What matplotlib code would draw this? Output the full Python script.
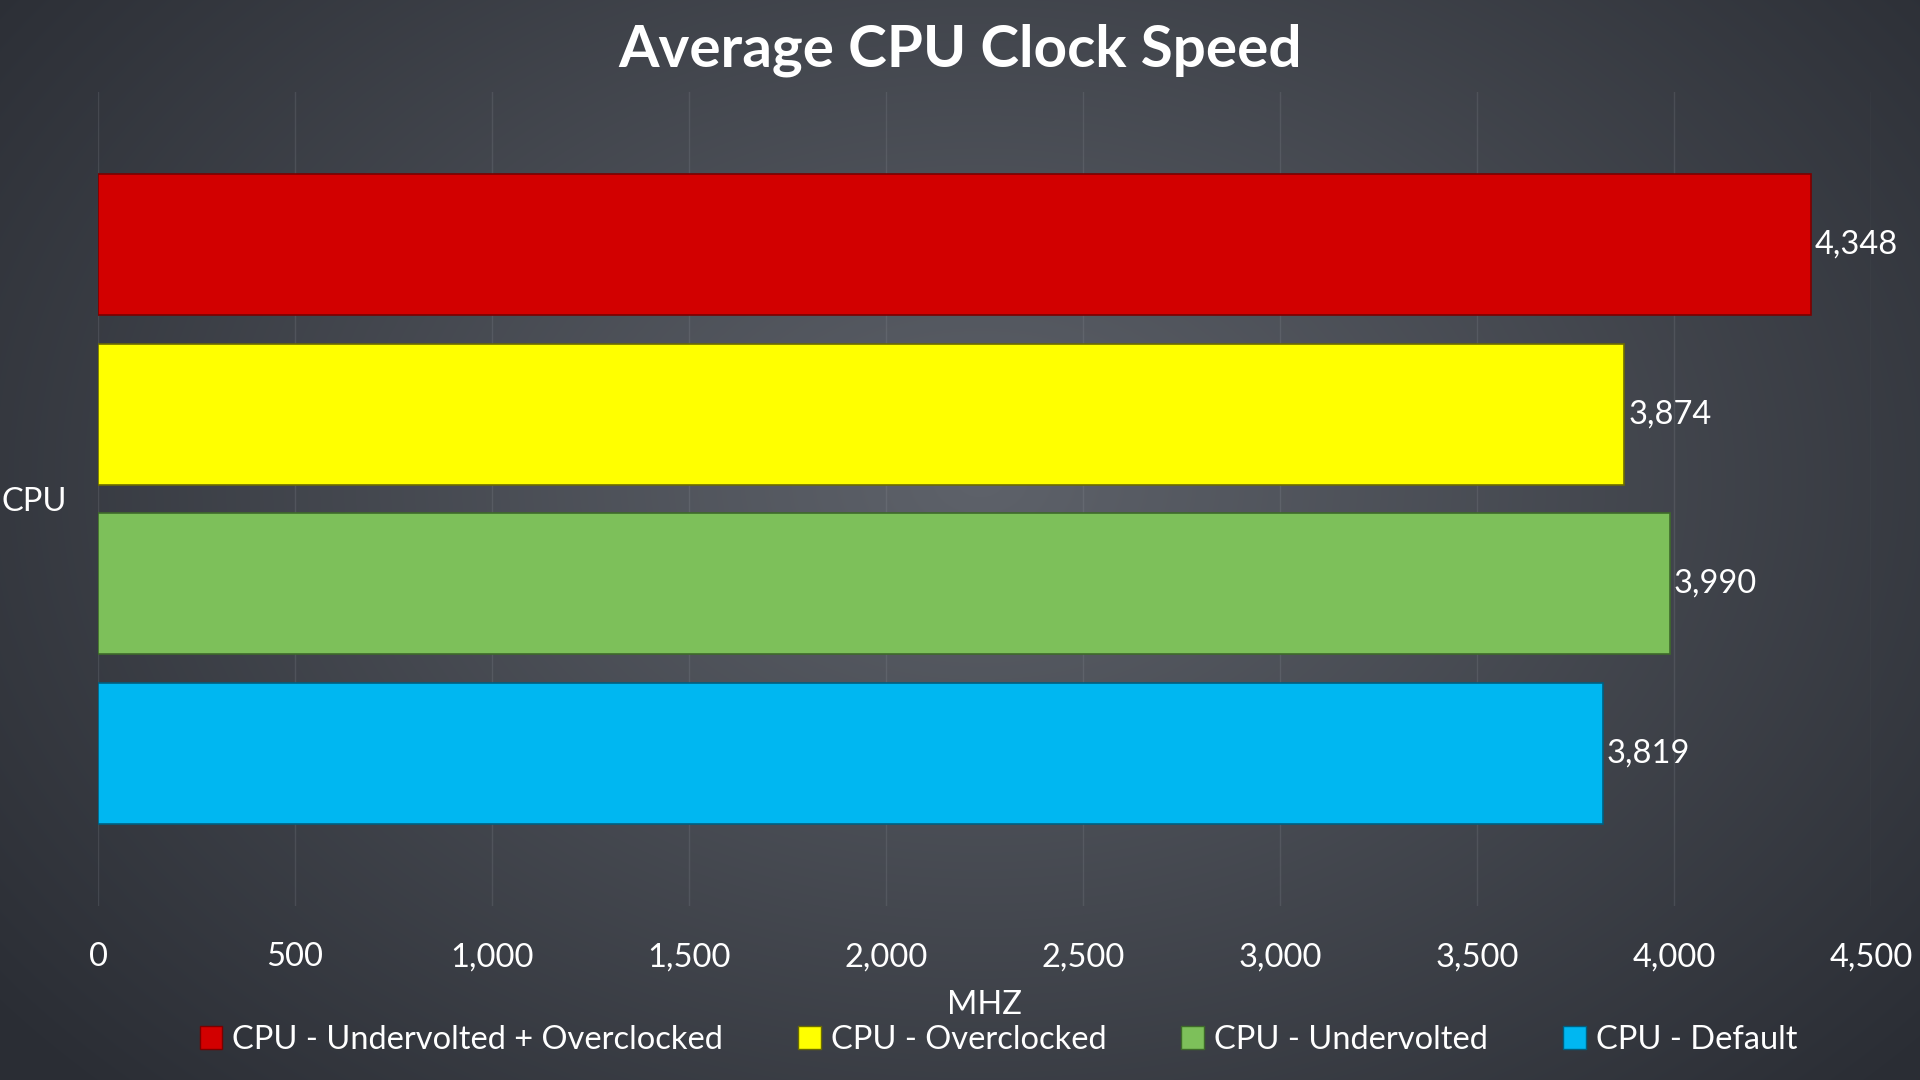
import numpy as np
import matplotlib.pyplot as plt
from matplotlib.patches import Patch

plt.rcParams['font.family'] = ['Lato', 'DejaVu Sans']

# data, top bar first
series = ['CPU - Undervolted + Overclocked', 'CPU - Overclocked',
          'CPU - Undervolted', 'CPU - Default']
values = [4348, 3874, 3990, 3819]
colors = ['#d20000', '#ffff00', '#7dc05a', '#00b7f1']
edges = ['#7a0000', '#6b6b00', '#3e6a2a', '#005f80']
category = 'CPU'
xticks = [0, 500, 1000, 1500, 2000, 2500, 3000, 3500, 4000, 4500]

fig = plt.figure(figsize=(19.2, 10.8), dpi=100)

# radial gradient background
bg = fig.add_axes([0, 0, 1, 1], zorder=-10)
yy, xx = np.mgrid[0:1080, 0:1920]
d = np.sqrt(((xx - 980) / 1250) ** 2 + ((yy - 480) / 880) ** 2)
d = np.clip(d, 0, 1)
light = np.array([0x5e, 0x62, 0x6a]) / 255
dark = np.array([0x2a, 0x2d, 0x34]) / 255
img = light[None, None, :] * (1 - d[..., None]) + dark[None, None, :] * d[..., None]
bg.imshow(img, aspect='auto', extent=[0, 1, 0, 1])
bg.axis('off')

ax = fig.add_axes([98 / 1920, 1 - 906 / 1080, (1871 - 98) / 1920, (906 - 92) / 1080])
ax.set_facecolor('none')

ypos = [3.6, 2.4, 1.2, 0.0]
for y, v, c, e in zip(ypos, values, colors, edges):
    ax.barh(y, v, height=1.0, color=c, edgecolor=e, linewidth=1.2, zorder=3)
    ax.text(v + 10, y, f'{v:,}', va='center', ha='left', color='white', fontsize=23.5, zorder=4)

ax.set_xlim(0, 4500)
ax.set_ylim(-1.08, 4.68)
ax.set_xticks(xticks)
ax.set_xticklabels([f'{t:,}' for t in xticks], color='white', fontsize=23.5)
ax.set_yticks([1.8])
ax.set_yticklabels([category], color='white', fontsize=23.5)
ax.tick_params(axis='x', length=0, pad=26)
ax.tick_params(axis='y', length=0, pad=22)
ax.grid(axis='x', color='#9a9ea6', alpha=0.18, linewidth=1, zorder=0)
for s in ax.spines.values():
    s.set_visible(False)

ax.set_xlabel('MHZ', color='white', fontsize=23.5, labelpad=13)

fig.text(0.5, 1 - 50 / 1080, 'Average CPU Clock Speed', ha='center', va='center',
         color='white', fontsize=42, fontweight='bold')

handles = [Patch(facecolor=c, edgecolor=e) for c, e in zip(colors, edges)]
fig.legend(handles, series, loc='center', bbox_to_anchor=(0.52, 1 - 1040 / 1080), ncol=4,
           frameon=False, fontsize=23.5, labelcolor='white', handlelength=0.7, handleheight=0.7,
           handletextpad=0.3, columnspacing=2.3)

fig.savefig('out.png', dpi=100)
